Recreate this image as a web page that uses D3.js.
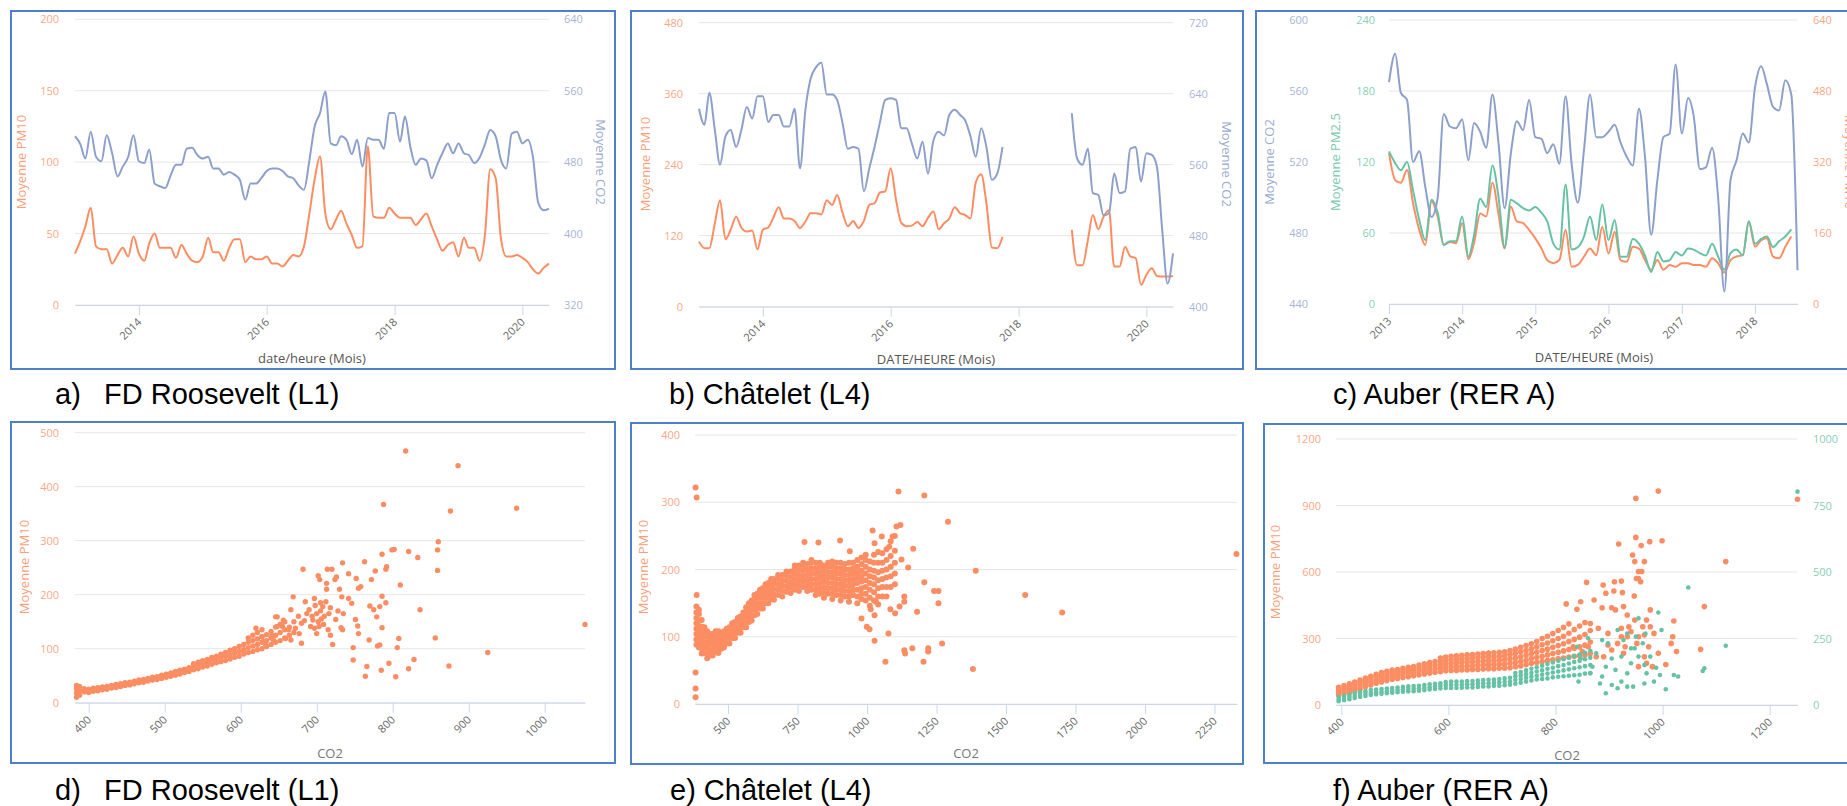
<!DOCTYPE html>
<html>
<head>
<meta charset="utf-8">
<script src="https://cdn.jsdelivr.net/npm/d3@7"></script>
<style>
  body { margin: 0; background: #fff; }
  svg { display: block; font-family: "Open Sans", sans-serif; }
</style>
</head>
<body>
<script>
// ---- data ----
const monthsAB = 90;          // Jan 2013 .. Jun 2020
const monthsC = 68;           // Jan 2013 .. Aug 2018

const pm10A = [36,45,55,68,41,39,39,29,35,40, 34,48,36,31,43,50,40,40,40,33,
  42,36,31,30,34,47,37,37,31,40, 46,46,30,34,32,32,34,29,29,27,
  31,35,34,41,64,88,104,64,53,60, 66,57,49,40,41,111,62,61,61,68,
  64,61,61,61,56,60,64,55,46,38, 42,44,34,47,40,40,31,49,95,89,
  46,34,34,35,33,30,25,22,26,29];
const co2A = [509,500,484,514,486,481,510,490,464,475, 486,510,481,479,494,456,453,451,465,477,
  477,495,496,488,484,486,473,473,466,469, 466,460,438,456,456,462,470,473,473,470,
  464,462,454,449,482,520,535,559,501,499, 509,505,489,505,475,507,505,505,495,535,
  535,503,531,497,477,484,482,462,477,490, 501,490,501,490,488,479,485,500,516,509,
  482,473,512,514,501,505,486,434,426,428];

const pm10B = [110,99,99,140,180,114,130,152,133,127, 129,97,130,134,150,168,149,149,145,133,
  144,158,158,156,180,172,189,159,136,145, 133,145,172,175,193,195,234,180,142,136,
  137,143,136,150,161,131,141,149,168,158, 155,149,210,224,175,100,99,118,null,null,
  null,null,null,null,null,null,null,null,null,null, 130,70,70,113,155,131,152,163,68,68,
  101,85,82,37,54,65,52,51,51,52];
const co2B = [623,605,641,600,560,592,599,580,600,625, 612,637,637,608,616,616,603,603,623,556,
  622,657,670,675,639,639,633,607,578,580, 578,530,556,580,608,633,635,633,601,601,
  584,567,586,550,587,597,593,616,622,616, 610,592,569,601,580,543,550,580,null,null,
  null,null,null,null,null,null,null,null,null,null, 618,567,560,578,528,526,503,505,550,528,
  530,578,580,541,573,571,558,485,426,460];

const co2C = [565,581,559,555,520,526,506,489,500,547, 540,539,544,521,542,537,528,558,531,494,
  525,543,538,555,534,533,525,530,519,557, 519,497,527,558,534,534,537,541,531,523,
  518,550,523,479,510,534,536,575,536,556, 546,516,517,528,500,447,510,521,536,531,
  562,574,564,551,549,566,558,459];
const pm25C = [129,119,113,120,96,71,54,88,77,50, 53,53,74,40,58,89,82,117,91,48,
  88,85,81,79,82,77,70,51,46,101, 46,48,57,74,54,84,54,71,40,40,
  55,51,41,27,44,36,37,44,41,47, 46,43,41,51,40,29,43,46,41,70,
  51,55,57,48,53,57,63,null];
const pm10C = [340,279,273,302,227,167,133,231,197,133, 140,137,182,101,137,204,197,273,204,125,
  219,186,182,167,148,125,99,92,99,167, 84,88,107,125,110,174,114,163,99,95,
  129,125,99,77,99,77,88,84,92,92, 88,88,84,103,92,71,99,107,110,186,
  129,144,148,107,103,129,152,null];

// scatter: dense band as [CO2, [PM values]] columns, then isolated points [CO2, PM]
const bandD = [[384,[10,18,26,32]],[388,[14,22,30]],[394,[20,26]],[400,[19,25]],[406,[21,27]],[412,[22,28]],
  [418,[24,29]],[424,[25,30]],[430,[27,32]],[436,[28,34]],[442,[30,35]],[448,[32,37]],[454,[33,38]],
  [460,[35,40]],[466,[37,42]],[472,[38,43]],[478,[40,45]],[484,[42,47]],[490,[43,48]],[496,[45,51]],
  [502,[47,53]],[508,[49,55]],[514,[51,58]],[520,[53,60]],[526,[56,62]],[532,[58,65]],[538,[61,67,72]],
  [544,[63,69,75]],[550,[66,72,78]],[556,[68,75,80]],[562,[71,78,84]],[568,[74,80,86]],[574,[76,83,90]],
  [580,[78,86,93]],[586,[81,89,97]],[592,[84,92,100]],[598,[86,95,104]],[604,[90,98,108]],
  [610,[93,102,112,120]],[616,[95,105,115,125]],[622,[98,108,118,130]],[628,[100,112,122,135]],
  [634,[104,115,126]],[640,[108,120,132]],[646,[112,125,140]],[652,[115,130,145]],[658,[120,135,150]],
  [664,[125,140]],[670,[130,150]]];
const pointsD = [[817,466],[886,439],[788,367],[876,355],[963,360],[860,298],[859,283],[859,245],[856,120],
  [874,68],[925,93],[1053,145],[836,172],[810,218],[821,280],[833,269],[799,283],[802,284],[786,275],
  [791,247],[792,252],[763,261],[777,244],[772,228],[786,197],[791,185],[783,178],[775,172],[770,179],
  [779,159],[786,139],[783,107],[780,105],[769,116],[808,119],[806,102],[828,80],[821,63],[795,73],
  [785,60],[804,48],[764,49],[766,67],[748,79],[748,102],[755,128],[754,142],[751,154],[746,184],
  [742,193],[755,212],[758,215],[752,230],[742,239],[734,259],[726,233],[720,247],[714,247],[733,196],
  [730,210],[735,165],[725,154],[732,139],[734,135],[715,135],[718,125],[721,108],[703,141],[706,155],
  [700,165],[712,187],[713,210],[704,228],[702,235],[713,221],[724,228],[697,193],[682,247],[669,196],
  [666,172],[648,159],[646,159],[685,187],[690,172],[687,165],[695,153],[680,147],[672,138],[663,135],
  [656,153],[659,119],[666,116],[677,128],[680,110],[692,141],[697,138],[700,128],[620,138],[628,122],
  [630,113],[641,125],[633,107],[648,141],[655,141],[643,116],[705,170],[708,178],[710,160],[698,180],
  [702,150],[716,165],[709,145],[676,160],[684,152],[694,160],[705,185],[718,176],[728,170]];

const bandE = [[386,[88,96,104,112,120,128,136,145]],[395,[84,92,100,108,116,124,134,140]],
  [405,[75,83,91,99,107,115,125]],[415,[76,84,92,100,108,114]],[425,[68,76,84,92,100,108]],
  [435,[72,80,88,96,104]],[445,[72,80,88,96,104]],[455,[78,86,94,102,108]],[465,[76,84,92,100,108]],
  [475,[82,90,98,106]],[485,[84,92,100,108]],[495,[90,98,106,112]],[505,[90,98,106,114]],
  [515,[98,106,114,120]],[525,[98,106,114,122]],[535,[106,114,122,128]],[545,[106,114,122,130]],
  [555,[114,122,130,136]],[565,[114,122,130,138,144]],[575,[122,130,138,146,150]],
  [585,[124,132,140,148,154]],[595,[132,140,148,156,162]],[605,[134,142,150,158,164]],
  [615,[142,150,158,166,170]],[625,[142,150,158,166,172]],[635,[150,158,166,174,178]],
  [645,[150,158,166,174,180]],[655,[156,164,172,180,186]],[665,[155,163,171,179,186]],
  [680,[162,170,178,186,192]],[695,[160,168,176,184,192]],[710,[167,175,183,191,197]],
  [725,[165,173,181,189,197]],[740,[170,178,186,194,202,206]],[755,[168,176,184,192,200,206]],
  [770,[174,182,190,198,206,210]],[785,[168,176,184,192,200,208]],[800,[170,178,186,194,202,210,214]],
  [815,[162,170,178,186,194,202,210]],[830,[164,172,180,188,196,204,210]],
  [845,[158,166,174,182,190,198,206]],[860,[164,172,180,188,196,204,210]],
  [875,[156,164,172,180,188,196,204,212]],[890,[162,170,178,186,194,202,210]],
  [905,[154,162,170,178,186,194,202,210]],[920,[160,168,176,184,192,200,208]],
  [935,[152,160,168,176,184,192,200,210]],[950,[162,170,178,186,194,202,210]],
  [965,[150,160,170,180,188,196,204,214]],[980,[156,164,172,182,190,198,208,218]],
  [995,[154,164,174,184,194,204,214,222]],[1010,[146,158,170,180,190,200,212]],
  [1025,[154,166,178,188,198,210,222]],[1040,[148,160,172,184,196,210,226]],
  [1055,[160,174,186,198,210,224]],[1070,[160,174,188,200,214,230]],[1085,[174,190,204,220,242]],
  [1100,[178,194,210,228,250]]];
const pointsE = [[383,322],[387,307],[387,162],[383,47],[383,23],[383,10],[1113,316],[1206,310],[1291,271],
  [2329,223],[1391,198],[1569,162],[1702,136],[1381,52],[1257,168],[1241,168],[1257,150],[1206,181],
  [1180,137],[1166,231],[1148,203],[1124,215],[1134,160],[1134,152],[1117,145],[1101,135],[1084,141],
  [1270,90],[1220,83],[1220,78],[1203,63],[1163,83],[1137,75],[1134,80],[1077,105],[1066,63],[1027,94],
  [1009,111],[999,115],[980,127],[1027,132],[1013,141],[1032,152],[1106,264],[1120,266],[1020,258],
  [1053,249],[1092,249],[1080,234],[1027,239],[903,243],[825,240],[775,241],[938,227]];

const bandF10 = [[395,[45,58,70,80]],[405,[52,64,76,88]],[415,[56,70,84,96]],[425,[64,78,92,104]],
  [435,[72,86,100,112]],[445,[82,96,110,122]],[455,[90,104,118,130]],[465,[98,112,126,138]],
  [475,[104,118,132,146]],[485,[110,124,138,152]],[495,[116,130,144,158]],[505,[120,134,148,160]],
  [515,[124,138,152,166]],[525,[128,142,156,170]],[535,[132,146,160,174]],[545,[136,150,164,180]],
  [555,[140,154,170,186]],[565,[144,160,176,192]],[575,[148,164,180,196]],[585,[150,166,182,198,212]],
  [595,[154,170,186,202,216]],[605,[156,172,188,204,220]],[615,[156,172,190,206,222]],
  [625,[158,174,192,208,224]],[635,[158,176,194,210,226]],[645,[160,176,194,212,228]],
  [655,[160,178,196,214,230]],[665,[162,180,198,216,232]],[675,[164,182,200,218,234]],
  [685,[164,182,200,218,236]],[695,[166,184,202,220,238]],[705,[166,184,204,222,240]],
  [715,[168,188,208,228,246]],[725,[172,192,212,232,252]],[735,[176,196,218,240,260]],
  [745,[182,202,224,246,268]],[755,[188,210,232,254,276]],[765,[192,214,238,262,286]],
  [775,[196,220,246,272,300]],[785,[200,226,252,280,310]],[795,[204,232,260,290,322]],
  [805,[208,238,268,300,336]],[815,[212,244,276,310,350]],[825,[216,250,286,324,366]],
  [835,[220,256,296,340]],[845,[222,262,306,356]],[855,[226,270,318,372]],[865,[232,284,336]]];
const pointsF10 = [[992,965],[950,932],[1252,928],[1118,647],[1078,444],[1071,251],[1006,183],[1021,379],
  [1019,308],[1026,241],[1016,278],[992,233],[999,741],[976,737],[950,756],[918,726],[960,719],[944,677],
  [966,647],[948,647],[955,602],[961,602],[951,571],[955,571],[959,556],[858,553],[889,541],[910,556],
  [923,559],[894,504],[909,514],[925,507],[947,492],[847,466],[820,456],[840,432],[872,474],[887,439],
  [905,439],[912,429],[927,444],[934,406],[948,383],[977,429],[970,383],[963,353],[977,353],[941,331],
  [923,346],[934,308],[955,308],[984,323],[966,316],[952,278],[974,263],[966,218],[970,188],[955,173],
  [981,173],[930,263],[927,233],[905,248],[890,218],[876,218],[861,263],[850,241],[833,263],[865,368],
  [880,346],[898,323],[898,271],[916,278],[923,308],[937,353]];

const bandF25 = [[395,[14,22,30]],[405,[18,26,34]],[415,[22,30,38]],[425,[26,34,44]],[435,[30,38,48]],
  [445,[34,42,52]],[455,[38,46,56]],[465,[40,48,58]],[475,[42,50,60]],[485,[44,52,62]],[495,[46,54,64]],
  [505,[48,56,66]],[515,[50,58,68]],[525,[51,60,70]],[535,[52,61,71]],[545,[54,63,72]],[555,[56,65,75]],
  [565,[58,67,78]],[575,[60,70,80]],[585,[62,72,82]],[595,[64,75,86]],[605,[64,75,88]],[615,[64,76,88]],
  [625,[65,76,88]],[635,[66,78,90]],[645,[66,78,90]],[655,[68,80,92]],[665,[70,82,94]],[675,[70,82,95]],
  [685,[72,84,96]],[695,[72,85,98]],[705,[74,86,100]],[715,[76,88,102]],[725,[80,94,108,120]],
  [735,[84,98,112,124]],[745,[88,102,116,130]],[755,[92,106,120,136]],[765,[96,110,126,142]],
  [775,[98,114,130,148]],[785,[100,118,136,154]],[795,[104,122,140,160]],[805,[106,126,146,166]],
  [815,[108,130,150,172]],[825,[110,134,156,178]],[835,[112,138,162,184]],[845,[114,142,166,190]],
  [855,[118,146,172,196]],[865,[120,150,178,204]]];
const pointsF25 = [[1252,802],[1048,442],[1118,223],[1078,138],[1075,128],[992,348],[998,282],[955,326],
  [950,257],[1021,113],[1029,107],[1006,59],[995,113],[988,140],[970,119],[966,81],[984,88],[894,44],
  [905,75],[916,63],[923,88],[934,69],[945,69],[883,81],[887,107],[843,88],[865,119],[968,269],[963,232],
  [934,269],[916,282],[927,244],[898,232],[887,244],[905,175],[923,182],[941,157],[977,182],[955,182],
  [966,150],[861,251],[840,219],[876,194],[847,175],[869,144],[894,144],[912,132],[934,119],[941,213],
  [948,213]];

// tick labels
const yearTicksAB = [2014, 2016, 2018, 2020];
const yearTicksC = [2013, 2014, 2015, 2016, 2017, 2018];
const pmTicksA = [0, 50, 100, 150, 200], co2TicksA = [320, 400, 480, 560, 640];
const pmTicksB = [0, 120, 240, 360, 480], co2TicksB = [400, 480, 560, 640, 720];
const co2TicksC = [440, 480, 520, 560, 600], pm25TicksC = [0, 60, 120, 180, 240], pm10TicksC = [0, 160, 320, 480, 640];
const co2TicksD = [400, 500, 600, 700, 800, 900, 1000], pmTicksD = [0, 100, 200, 300, 400, 500];
const co2TicksE = [500, 750, 1000, 1250, 1500, 1750, 2000, 2250], pmTicksE = [0, 100, 200, 300, 400];
const co2TicksF = [400, 600, 800, 1000, 1200], pm10TicksF = [0, 300, 600, 900, 1200], pm25TicksF = [0, 250, 500, 750, 1000];

const captions = [
  ["a)", "FD Roosevelt (L1)"], ["b)", "Châtelet (L4)"], ["c)", "Auber (RER A)"],
  ["d)", "FD Roosevelt (L1)"], ["e)", "Châtelet (L4)"], ["f)", "Auber (RER A)"]
];

// ---- drawing ----
const ORANGE = "#fc8d62", BLUE = "#8da0cb", GREEN = "#66c2a5";
const svg = d3.select("body").append("svg").attr("width", 1847).attr("height", 806);

function frame(x0, y0, x1, y1) {
  svg.append("rect").attr("x", x0).attr("y", y0).attr("width", x1 - x0).attr("height", y1 - y0)
    .attr("fill", "none").attr("stroke", "#4f7fc6").attr("stroke-width", 2);
}

function grid(y, ticks, x0, x1) {
  svg.append("g").selectAll("line").data(ticks).join("line")
    .attr("x1", x0).attr("x2", x1).attr("y1", d => y(d)).attr("y2", d => y(d))
    .attr("stroke", "#e6e6e6");
}

function yAxis(y, ticks, x, side, color) {
  const axis = (side === "left" ? d3.axisLeft(y) : d3.axisRight(y))
    .tickValues(ticks).tickSize(0).tickPadding(0).tickFormat(d3.format("d"));
  const g = svg.append("g").attr("transform", `translate(${x},0)`).call(axis)
    .attr("font-size", 11).attr("font-family", '"Open Sans", sans-serif');
  g.select(".domain").remove();
  g.selectAll("text").attr("fill", color).attr("fill-opacity", 0.8);
}

function xAxis(x, ticks, y, fmt) {
  const g = svg.append("g").attr("transform", `translate(0,${y})`)
    .call(d3.axisBottom(x).tickValues(ticks).tickSize(10).tickSizeOuter(0).tickFormat(fmt))
    .attr("font-size", 11).attr("font-family", '"Open Sans", sans-serif');
  g.select(".domain").attr("stroke", "#ccd6eb");
  g.selectAll(".tick line").attr("stroke", "#ccd6eb");
  g.selectAll(".tick text").attr("y", 0).attr("dy", "0.35em")
    .attr("transform", "translate(0,15) rotate(-45)")
    .attr("text-anchor", "end").attr("fill", "#666");
}

function title(text, x, y, rot, color, op) {
  svg.append("text").attr("transform", `translate(${x},${y}) rotate(${rot})`)
    .attr("text-anchor", "middle").attr("dominant-baseline", "central")
    .attr("font-size", 13).attr("fill", color).attr("fill-opacity", op).text(text);
}

function line(x, y, dates, values, color) {
  const gen = d3.line().defined(d => d[1] != null)
    .x(d => x(d[0])).y(d => y(d[1])).curve(d3.curveMonotoneX);
  svg.append("path").datum(dates.map((t, i) => [t, values[i]]))
    .attr("d", gen).attr("fill", "none").attr("stroke", color).attr("stroke-width", 2);
}

function dots(x, y, band, pts, color, r) {
  const all = band.flatMap(([c, list]) => list.map(v => [c, v])).concat(pts);
  svg.append("g").selectAll("circle").data(all).join("circle")
    .attr("cx", d => x(d[0])).attr("cy", d => y(d[1])).attr("r", r).attr("fill", color);
}

const months = n => d3.range(n).map(i => new Date(2013, i, 1));
const yearFmt = d => d3.timeFormat("%Y")(d);
const yearDates = ys => ys.map(yv => new Date(yv, 0, 1));

// frames
frame(11, 11, 615, 369);
frame(631, 11, 1243, 369);
frame(1256, 11, 1870, 369);
frame(11, 422, 615, 763);
frame(631, 423, 1243, 764);
frame(1264, 424, 1870, 763);

// ---- a) FD Roosevelt time series ----
{
  const dates = months(monthsAB);
  const x = d3.scaleTime().domain(d3.extent(dates)).range([75, 549]);
  const yPm = d3.scaleLinear().domain([0, 200]).range([305, 19.3]);
  const yCo2 = d3.scaleLinear().domain([320, 640]).range([305, 19.3]);
  grid(yPm, pmTicksA, 75, 549);
  xAxis(x, yearDates(yearTicksAB), 305, yearFmt);
  yAxis(yPm, pmTicksA, 59, "left", ORANGE);
  yAxis(yCo2, co2TicksA, 564, "right", BLUE);
  line(x, yPm, dates, pm10A, ORANGE);
  line(x, yCo2, dates, co2A, BLUE);
  title("Moyenne PM10", 21, 162, -90, ORANGE, 0.85);
  title("Moyenne CO2", 601, 162, 90, BLUE, 0.9);
  title("date/heure (Mois)", 312, 358, 0, "#555", 1);
}

// ---- b) Châtelet time series ----
{
  const dates = months(monthsAB);
  const x = d3.scaleTime().domain(d3.extent(dates)).range([699, 1173]);
  const yPm = d3.scaleLinear().domain([0, 480]).range([306.7, 22.7]);
  const yCo2 = d3.scaleLinear().domain([400, 720]).range([306.7, 22.7]);
  grid(yPm, pmTicksB, 699, 1173);
  xAxis(x, yearDates(yearTicksAB), 306.7, yearFmt);
  yAxis(yPm, pmTicksB, 683, "left", ORANGE);
  yAxis(yCo2, co2TicksB, 1189, "right", BLUE);
  line(x, yPm, dates, pm10B, ORANGE);
  line(x, yCo2, dates, co2B, BLUE);
  title("Moyenne PM10", 644.5, 164, -90, ORANGE, 0.85);
  title("Moyenne CO2", 1227, 164, 90, BLUE, 0.9);
  title("DATE/HEURE (Mois)", 936, 359, 0, "#555", 1);
}

// ---- c) Auber time series ----
{
  const dates = months(monthsC);
  const x = d3.scaleTime().domain(d3.extent(dates)).range([1389, 1797.5]);
  const yCo2 = d3.scaleLinear().domain([440, 600]).range([304, 20]);
  const yPm25 = d3.scaleLinear().domain([0, 240]).range([304, 20]);
  const yPm10 = d3.scaleLinear().domain([0, 640]).range([304, 20]);
  grid(yCo2, co2TicksC, 1389, 1797.5);
  xAxis(x, yearDates(yearTicksC), 304, yearFmt);
  yAxis(yCo2, co2TicksC, 1308, "left", BLUE);
  yAxis(yPm25, pm25TicksC, 1375, "left", GREEN);
  yAxis(yPm10, pm10TicksC, 1813, "right", ORANGE);
  line(x, yPm10, dates, pm10C, ORANGE);
  line(x, yPm25, dates, pm25C, GREEN);
  line(x, yCo2, dates, co2C, BLUE);
  title("Moyenne CO2", 1269, 162, -90, BLUE, 0.9);
  title("Moyenne PM2.5", 1335, 162, -90, GREEN, 0.9);
  title("Moyenne PM10", 1850, 162, 90, ORANGE, 0.85);
  title("DATE/HEURE (Mois)", 1594, 357, 0, "#555", 1);
}

// ---- d) FD Roosevelt scatter ----
{
  const x = d3.scaleLinear().domain([382, 1053]).range([75, 585]);
  const y = d3.scaleLinear().domain([0, 500]).range([702.7, 432.7]);
  grid(y, pmTicksD, 75, 585);
  xAxis(x, co2TicksD, 702.7, d3.format("d"));
  yAxis(y, pmTicksD, 59, "left", ORANGE);
  dots(x, y, bandD, pointsD, ORANGE, 2.7);
  title("Moyenne PM10", 24, 567, -90, ORANGE, 0.85);
  title("CO2", 330, 753, 0, "#777", 1);
}

// ---- e) Châtelet scatter ----
{
  const x = d3.scaleLinear().domain([381, 2331]).range([695, 1237]);
  const y = d3.scaleLinear().domain([0, 400]).range([704, 435]);
  grid(y, pmTicksE, 695, 1237);
  xAxis(x, co2TicksE, 704, d3.format("d"));
  yAxis(y, pmTicksE, 680, "left", ORANGE);
  dots(x, y, bandE, pointsE, ORANGE, 3);
  title("Moyenne PM10", 643, 567, -90, ORANGE, 0.85);
  title("CO2", 966, 753, 0, "#777", 1);
}

// ---- f) Auber scatter ----
{
  const x = d3.scaleLinear().domain([390, 1252]).range([1336, 1797.5]);
  const y10 = d3.scaleLinear().domain([0, 1200]).range([705, 439]);
  const y25 = d3.scaleLinear().domain([0, 1000]).range([705, 439]);
  grid(y10, pm10TicksF, 1336, 1797.5);
  xAxis(x, co2TicksF, 705, d3.format("d"));
  yAxis(y10, pm10TicksF, 1321, "left", ORANGE);
  yAxis(y25, pm25TicksF, 1813, "right", GREEN);
  dots(x, y10, bandF10, pointsF10, ORANGE, 2.8);
  dots(x, y25, bandF25, pointsF25, GREEN, 2.3);
  title("Moyenne PM10", 1275, 572, -90, ORANGE, 0.85);
  title("CO2", 1567, 755, 0, "#777", 1);
}

// ---- captions ----
const capPos = [[55, 104, 404], [669, null, 404], [1333, null, 404], [55, 104, 800], [670, null, 800], [1333, null, 800]];
captions.forEach(([letter, name], i) => {
  const [x0, x1, yb] = capPos[i];
  const t = svg.append("text").attr("y", yb).attr("font-family", '"Liberation Sans", Arial, sans-serif')
    .attr("font-size", 29).attr("fill", "#000");
  if (x1 == null) {
    t.attr("x", x0).text(letter + " " + name);
  } else {
    t.append("tspan").attr("x", x0).text(letter);
    t.append("tspan").attr("x", x1).text(name);
  }
});
</script>
</body>
</html>
